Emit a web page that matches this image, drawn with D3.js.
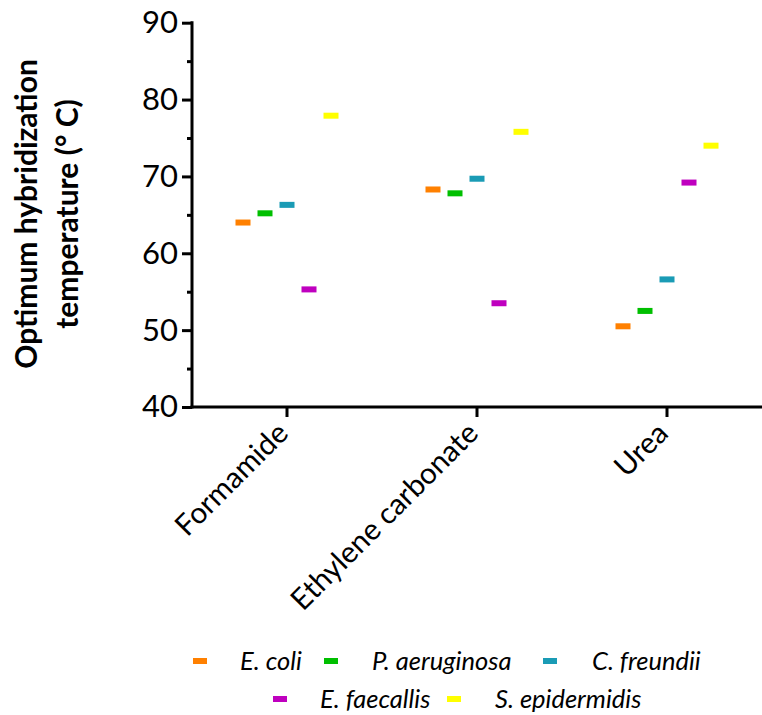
<!DOCTYPE html>
<html>
<head>
<meta charset="utf-8">
<script src="https://cdn.jsdelivr.net/npm/d3@7"></script>
<style>
  body { margin: 0; background: #fff; }
  svg { display: block; font-family: Lato, "Open Sans", sans-serif; }
</style>
</head>
<body>
<svg id="chart" width="762" height="715"></svg>
<script>
const categories = ["Formamide", "Ethylene carbonate", "Urea"];
const species = ["E. coli", "P. aeruginosa", "C. freundii", "E. faecallis", "S. epidermidis"];
const colors = ["#FF8000", "#00BF00", "#1A9BB5", "#BF00BF", "#FFFF00"];
const eColi = [64.0, 68.3, 50.5];
const pAeruginosa = [65.2, 67.8, 52.5];
const cFreundii = [66.3, 69.7, 56.6];
const eFaecallis = [55.3, 53.5, 69.2];
const sEpidermidis = [77.9, 75.8, 74.0];
const yTicks = [40, 50, 60, 70, 80, 90];
const yMinorTicks = [45, 55, 65, 75, 85];

const seriesValues = [eColi, pAeruginosa, cFreundii, eFaecallis, sEpidermidis];

const svg = d3.select("#chart");
const pLeft = 192, pRight = 762, pTop = 22.7, pBottom = 407;
const FONT = 'Lato, "Open Sans", sans-serif';

const x = d3.scaleBand().domain(categories).range([pLeft, pRight]);
const inner = d3.scalePoint().domain(species).range([-44, 44]);
const y = d3.scaleLinear().domain([40, 90]).range([pBottom, pTop]);

// marks
species.forEach((sp, i) => {
  svg.append("g").selectAll("rect")
    .data(categories.map((c, j) => ({c, v: seriesValues[i][j]})))
    .join("rect")
    .attr("x", d => x(d.c) + x.bandwidth() / 2 + inner(sp) - 7.5)
    .attr("y", d => y(d.v) - 3)
    .attr("width", 15)
    .attr("height", 6)
    .attr("fill", colors[i]);
});

// y axis
const yAxis = svg.append("g").attr("transform", `translate(${pLeft},0)`)
  .call(d3.axisLeft(y).tickValues(yTicks).tickSize(10).tickPadding(4).tickFormat(d3.format("d")));
yAxis.attr("font-family", FONT);
yAxis.select(".domain").attr("stroke", "#000").attr("stroke-width", 3).attr("d", `M0,${pTop - 1.5}V${pBottom + 1.5}`);
yAxis.selectAll(".tick line").attr("stroke", "#000").attr("stroke-width", 3);
yAxis.selectAll(".tick text").attr("font-size", 31).attr("fill", "#000");
svg.append("g").attr("transform", `translate(${pLeft},0)`)
  .call(d3.axisLeft(y).tickValues(yMinorTicks).tickSize(5).tickFormat(""))
  .call(g => g.select(".domain").remove())
  .selectAll(".tick line").attr("stroke", "#000").attr("stroke-width", 3);

// x axis
const xAxis = svg.append("g").attr("transform", `translate(0,${pBottom})`)
  .call(d3.axisBottom(x).tickSize(10).tickSizeOuter(0));
xAxis.attr("font-family", FONT);
xAxis.select(".domain").attr("stroke", "#000").attr("stroke-width", 3).attr("d", `M${pLeft - 1.5},0H${pRight}`);
xAxis.selectAll(".tick line").attr("stroke", "#000").attr("stroke-width", 3);
xAxis.selectAll(".tick text")
  .attr("font-size", 29.5)
  .attr("fill", "#000")
  .attr("text-anchor", "end")
  .attr("dy", null)
  .attr("y", 0)
  .attr("transform", "translate(3,28) rotate(-45)");

// y title
const yt = svg.append("text")
  .attr("transform", "translate(0,214) rotate(-90)")
  .attr("text-anchor", "middle")
  .attr("font-weight", "bold")
  .attr("font-size", 30)
  .attr("fill", "#000");
yt.append("tspan").attr("x", 0).attr("y", 37).text("Optimum hybridization");
yt.append("tspan").attr("x", 0).attr("y", 78).text("temperature (° C)");

// legend
const legendPos = [
  {sx: 193, tx: 240, y: 661},
  {sx: 324, tx: 372, y: 661},
  {sx: 543, tx: 592, y: 661},
  {sx: 273, tx: 320, y: 699},
  {sx: 447, tx: 495, y: 699}
];
const lg = svg.append("g");
species.forEach((sp, i) => {
  const p = legendPos[i];
  lg.append("rect").attr("x", p.sx).attr("y", p.y - 3).attr("width", 14).attr("height", 6).attr("fill", colors[i]);
  lg.append("text").attr("x", p.tx).attr("y", p.y + 9).attr("font-size", 25.5)
    .attr("font-style", "italic").attr("fill", "#000").text(sp);
});
</script>
</body>
</html>
